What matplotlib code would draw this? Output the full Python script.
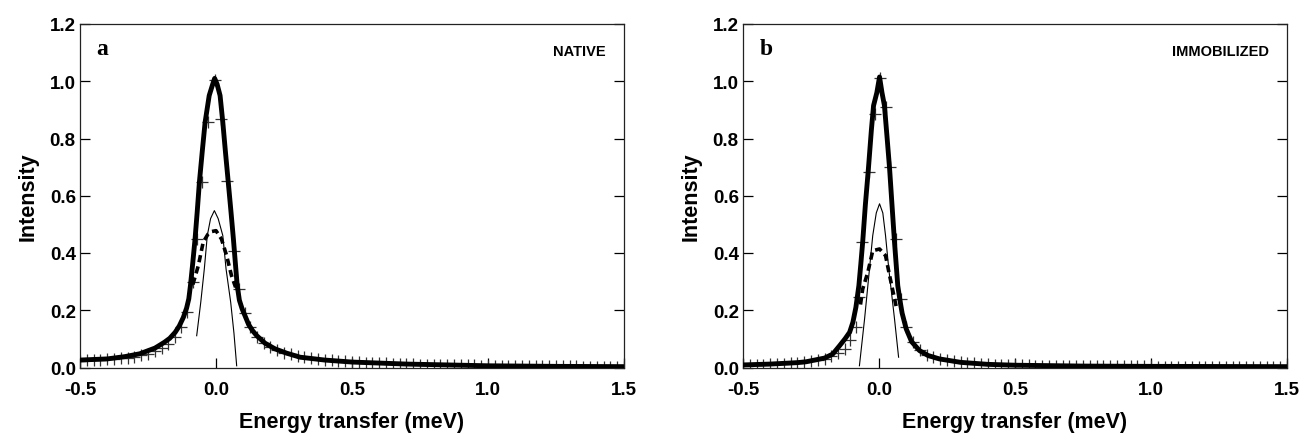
import matplotlib
matplotlib.use("Agg", force=True)
import matplotlib.pyplot as plt
import numpy as np

# ---- panel a (NATIVE) ----
a_data_x = [-0.500, -0.475, -0.450, -0.425, -0.400, -0.375, -0.350, -0.325, -0.300, -0.275,
            -0.250, -0.225, -0.200, -0.175, -0.150, -0.128, -0.108, -0.086, -0.071, -0.053,
            -0.028, -0.004, 0.017, 0.042, 0.068, 0.085, 0.105, 0.125, 0.150, 0.175,
            0.200, 0.225, 0.250, 0.275, 0.300, 0.325, 0.350, 0.375, 0.400, 0.425,
            0.450, 0.475, 0.500, 0.525, 0.550, 0.575, 0.600, 0.625, 0.650, 0.675,
            0.700, 0.725, 0.750, 0.775, 0.800, 0.825, 0.850, 0.875, 0.900, 0.925,
            0.950, 0.975, 1.000, 1.025, 1.050, 1.075, 1.100, 1.125, 1.150, 1.175,
            1.200, 1.225, 1.250, 1.275, 1.300, 1.325, 1.350, 1.375, 1.400, 1.425,
            1.450, 1.475, 1.500]
a_data_y = [0.024, 0.025, 0.026, 0.027, 0.028, 0.030, 0.032, 0.034, 0.037, 0.042,
            0.048, 0.056, 0.067, 0.083, 0.108, 0.140, 0.195, 0.298, 0.449, 0.648,
            0.857, 1.003, 0.869, 0.653, 0.408, 0.275, 0.190, 0.140, 0.108, 0.085,
            0.070, 0.060, 0.052, 0.046, 0.040, 0.036, 0.032, 0.029, 0.027, 0.025,
            0.023, 0.021, 0.019, 0.018, 0.017, 0.016, 0.015, 0.014, 0.013, 0.012,
            0.012, 0.011, 0.010, 0.010, 0.009, 0.009, 0.008, 0.008, 0.007, 0.007,
            0.007, 0.006, 0.006, 0.006, 0.006, 0.005, 0.005, 0.005, 0.005, 0.005,
            0.004, 0.004, 0.004, 0.004, 0.004, 0.004, 0.003, 0.003, 0.003, 0.003,
            0.003, 0.003, 0.003]

a_fit_x = [-0.5, -0.4, -0.335, -0.28, -0.224, -0.19, -0.17, -0.15, -0.135, -0.12, -0.108,
           -0.1, -0.094, -0.086, -0.077, -0.069, -0.061, -0.05, -0.04, -0.025, -0.012,
           -0.005, 0.004, 0.015, 0.025, 0.035, 0.045, 0.055, 0.064, 0.072, 0.078, 0.086,
           0.096, 0.107, 0.12, 0.135, 0.15, 0.18, 0.217, 0.26, 0.309, 0.4, 0.5, 0.7, 1.0,
           1.25, 1.5]
a_fit_y = [0.026, 0.030, 0.038, 0.048, 0.068, 0.088, 0.102, 0.123, 0.145, 0.175, 0.208,
           0.240, 0.286, 0.360, 0.449, 0.545, 0.648, 0.760, 0.857, 0.950, 0.990,
           1.010, 0.990, 0.950, 0.857, 0.750, 0.648, 0.545, 0.449, 0.355, 0.286, 0.235,
           0.205, 0.180, 0.150, 0.128, 0.111, 0.085, 0.065, 0.050, 0.036, 0.026, 0.019,
           0.012, 0.006, 0.004, 0.003]

a_quasi_x = [-0.085, -0.065, -0.047, -0.030, -0.016, 0.000, 0.020, 0.039, 0.057, 0.072]
a_quasi_y = [0.290, 0.356, 0.438, 0.465, 0.475, 0.478, 0.449, 0.391, 0.321, 0.280]

a_elastic_x = [-0.071, -0.056, -0.043, -0.032, -0.020, -0.006, 0.008, 0.025, 0.037, 0.054, 0.066, 0.076]
a_elastic_y = [0.111, 0.228, 0.344, 0.461, 0.520, 0.548, 0.520, 0.461, 0.344, 0.228, 0.120, 0.006]

# ---- panel b (IMMOBILIZED) ----
b_data_x = [-0.500, -0.475, -0.450, -0.425, -0.400, -0.375, -0.350, -0.325, -0.300, -0.275,
            -0.250, -0.225, -0.200, -0.175, -0.150, -0.125, -0.108, -0.084, -0.072, -0.062,
            -0.037, -0.016, 0.002, 0.024, 0.039, 0.063, 0.082, 0.100, 0.125, 0.150,
            0.175, 0.200, 0.225, 0.250, 0.275, 0.300, 0.325, 0.350, 0.375, 0.400,
            0.425, 0.450, 0.475, 0.500, 0.525, 0.550, 0.575, 0.600, 0.625, 0.650,
            0.675, 0.700, 0.725, 0.750, 0.775, 0.800, 0.825, 0.850, 0.875, 0.900,
            0.925, 0.950, 0.975, 1.000, 1.025, 1.050, 1.075, 1.100, 1.125, 1.150,
            1.175, 1.200, 1.225, 1.250, 1.275, 1.300, 1.325, 1.350, 1.375, 1.400,
            1.425, 1.450, 1.475, 1.500]
b_data_y = [0.008, 0.009, 0.009, 0.010, 0.011, 0.012, 0.013, 0.014, 0.016, 0.018,
            0.021, 0.025, 0.030, 0.040, 0.050, 0.065, 0.095, 0.140, 0.245, 0.438,
            0.682, 0.886, 1.010, 0.910, 0.700, 0.449, 0.240, 0.140, 0.090, 0.062,
            0.045, 0.036, 0.030, 0.025, 0.021, 0.018, 0.016, 0.014, 0.012, 0.011,
            0.010, 0.009, 0.008, 0.008, 0.007, 0.007, 0.006, 0.006, 0.006, 0.005,
            0.005, 0.005, 0.005, 0.005, 0.004, 0.004, 0.004, 0.004, 0.004, 0.004,
            0.004, 0.004, 0.004, 0.004, 0.003, 0.003, 0.003, 0.003, 0.003, 0.003,
            0.003, 0.003, 0.003, 0.003, 0.003, 0.003, 0.003, 0.003, 0.003, 0.003,
            0.003, 0.003, 0.003, 0.003]

b_fit_x = [-0.5, -0.4, -0.3, -0.268, -0.2, -0.17, -0.145, -0.125, -0.108, -0.096, -0.085,
           -0.074, -0.067, -0.06, -0.05, -0.039, -0.028, -0.02, -0.008, 0.002, 0.011, 0.02,
           0.03, 0.039, 0.048, 0.057, 0.069, 0.077, 0.085, 0.1, 0.12, 0.149, 0.18, 0.222,
           0.3, 0.4, 0.5, 0.75, 1.0, 1.5]
b_fit_y = [0.009, 0.012, 0.017, 0.020, 0.033, 0.047, 0.076, 0.100, 0.123, 0.158, 0.210,
           0.286, 0.360, 0.438, 0.570, 0.694, 0.830, 0.915, 0.960, 1.015, 0.960, 0.915,
           0.800, 0.694, 0.565, 0.438, 0.286, 0.235, 0.190, 0.135, 0.090, 0.059, 0.042,
           0.030, 0.018, 0.011, 0.008, 0.005, 0.004, 0.003]

b_quasi_x = [-0.068, -0.060, -0.041, -0.023, 0.002, 0.024, 0.039, 0.055, 0.066]
b_quasi_y = [0.220, 0.274, 0.333, 0.408, 0.414, 0.391, 0.321, 0.250, 0.200]

b_elastic_x = [-0.072, -0.053, -0.035, -0.023, -0.010, 0.002, 0.014, 0.024, 0.036, 0.057, 0.072]
b_elastic_y = [0.006, 0.170, 0.344, 0.461, 0.540, 0.572, 0.540, 0.461, 0.344, 0.170, 0.036]

panels = [
    ("a", "NATIVE", a_data_x, a_data_y, a_fit_x, a_fit_y, a_quasi_x, a_quasi_y, a_elastic_x, a_elastic_y),
    ("b", "IMMOBILIZED", b_data_x, b_data_y, b_fit_x, b_fit_y, b_quasi_x, b_quasi_y, b_elastic_x, b_elastic_y),
]
x_ticks = [-0.5, 0.0, 0.5, 1.0, 1.5]
y_ticks = [0.0, 0.2, 0.4, 0.6, 0.8, 1.0, 1.2]

plt.rcParams['font.family'] = ['Liberation Sans', 'DejaVu Sans']
plt.rcParams['font.weight'] = 'bold'

fig = plt.figure(figsize=(13.01, 4.35), dpi=100)
lefts = [80 / 1301, 743 / 1301]
for left, (tag, label, dx, dy, fx, fy, qx, qy, ex, ey) in zip(lefts, panels):
    ax = fig.add_axes([left, 1 - 368.5 / 435, 544 / 1301, 343.5 / 435])
    ax.plot(dx, dy, linestyle='none', marker='+', markersize=9, markeredgewidth=0.9,
            color='#333333', zorder=2)
    ax.plot(fx, fy, color='black', linewidth=3.5, zorder=4, solid_joinstyle='round')
    ax.plot(qx, qy, color='black', linewidth=2.6, linestyle=(0, (2.0, 1.2)), zorder=3)
    ax.plot(ex, ey, color='black', linewidth=0.8, zorder=3)

    ax.set_xlim(-0.5, 1.5)
    ax.set_ylim(0.0, 1.2)
    ax.set_xticks(x_ticks)
    ax.set_yticks(y_ticks)
    ax.set_xticklabels([f"{t:.1f}" for t in x_ticks], fontsize=13.5, fontweight='bold')
    ax.set_yticklabels([f"{t:.1f}" for t in y_ticks], fontsize=13.5, fontweight='bold')
    ax.tick_params(direction='in', length=7, width=0.9, right=True, top=False)
    ax.tick_params(axis='x', pad=10)
    ax.tick_params(axis='y', pad=3)
    for sp in ax.spines.values():
        sp.set_linewidth(0.9)
        sp.set_color('#222222')
    ax.set_xlabel("Energy transfer (meV)", fontsize=15.5, fontweight='bold', labelpad=9)
    ax.set_ylabel("Intensity", fontsize=15.5, fontweight='bold', labelpad=8)

    ax.text(0.03, 0.93, tag, transform=ax.transAxes, fontsize=17, fontweight='bold',
            family=['Liberation Serif', 'DejaVu Serif'], ha='left', va='center')
    ax.text(0.966, 0.922, label, transform=ax.transAxes, fontsize=10.5, fontweight='bold',
            ha='right', va='center')

fig.savefig("out.png", dpi=100)
plt.close(fig)
